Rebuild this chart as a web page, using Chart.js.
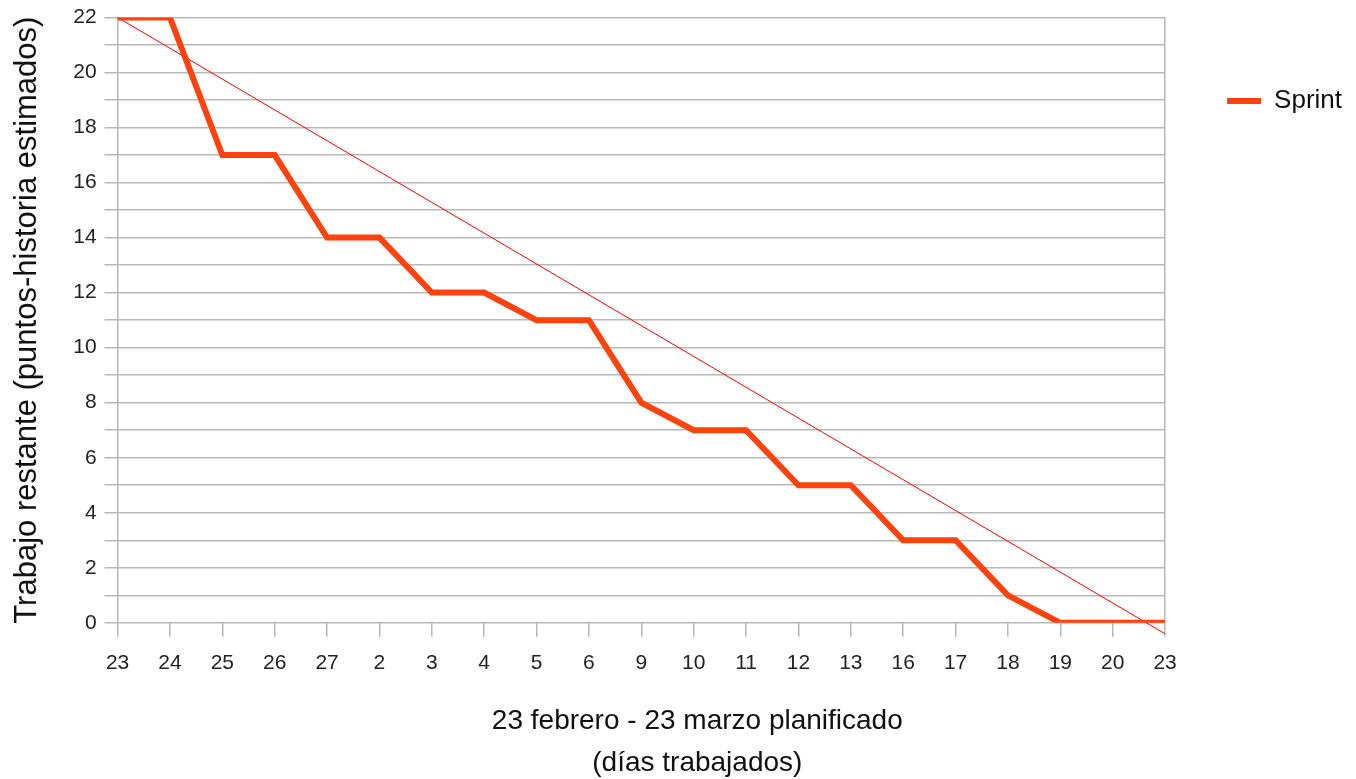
<!DOCTYPE html>
<html>
<head>
<meta charset="utf-8">
<script src="https://cdn.jsdelivr.net/npm/chart.js@4/dist/chart.umd.min.js"></script>
<style>
html,body{margin:0;padding:0;background:#fff;}
#wrap{width:1356px;height:779px;}
</style>
</head>
<body>
<div id="wrap"><canvas id="c" width="1356" height="779"></canvas></div>
<script>
const categories = ['23','24','25','26','27','2','3','4','5','6','9','10','11','12','13','16','17','18','19','20','23'];
const sprintValues = [22,22,17,17,14,14,12,12,11,11,8,7,7,5,5,3,3,1,0,0,0];
const idealValues = [22,null,null,null,null,null,null,null,null,null,null,null,null,null,null,null,null,null,null,null,-0.4];
const yTickLabels = [0,2,4,6,8,10,12,14,16,18,20,22];
const xTitleLines = ['23 febrero - 23 marzo planificado', '(días trabajados)'];

const FONT = "'Liberation Sans', Arial, sans-serif";
const grid = '#b8b8b8';

// x-axis title, centred slightly right of the plot centre as in the reference
const xTitlePlugin = {
  id: 'xTitle',
  afterDraw(chart) {
    const {ctx, chartArea} = chart;
    ctx.save();
    ctx.fillStyle = '#111';
    ctx.font = "28px " + FONT;
    ctx.textAlign = 'center';
    ctx.textBaseline = 'middle';
    const cx = (chartArea.left + chartArea.right) / 2 + 56;
    xTitleLines.forEach((t, i) => ctx.fillText(t, cx, chartArea.bottom + 98 + i * 42));
    ctx.restore();
  }
};

new Chart(document.getElementById('c'), {
  type: 'line',
  data: {
    labels: categories,
    datasets: [
      {label: 'Sprint', data: sprintValues, borderColor: '#ff420e', backgroundColor: '#ff420e', borderWidth: 6, pointRadius: 0, tension: 0, borderJoinStyle: 'miter', order: 1},
      {label: 'Ideal', data: idealValues, borderColor: '#ff0000', backgroundColor: '#ff0000', borderWidth: 1, pointRadius: 0, spanGaps: true, clip: false, order: 2}
    ]
  },
  plugins: [xTitlePlugin],
  options: {
    responsive: false,
    animation: false,
    layout: {padding: {top: 0, right: 4, left: 9, bottom: 89}},
    plugins: {
      tooltip: {enabled: false},
      legend: {
        position: 'right',
        align: 'start',
        title: {display: true, text: ' ', font: {size: 10, lineHeight: 1}, padding: {top: 0, bottom: 16}},
        labels: {
          filter: (item) => item.text === 'Sprint',
          usePointStyle: true,
          pointStyle: 'line',
          pointStyleWidth: 34,
          boxWidth: 34,
          boxHeight: 26,
          color: '#111',
          padding: 62,
          font: {family: FONT, size: 26}
        }
      }
    },
    scales: {
      x: {
        offset: false,
        grid: {
          color: (ctx) => (ctx.index === 0 || ctx.index === categories.length - 1) ? grid : 'rgba(0,0,0,0)',
          tickColor: grid,
          tickLength: 14,
          lineWidth: 1.5
        },
        border: {display: false},
        ticks: {color: '#222', font: {family: FONT, size: 21, lineHeight: 1.2}, padding: 14, maxRotation: 0, autoSkip: false},
        title: {display: false}
      },
      y: {
        min: 0, max: 22,
        grid: {color: grid, tickLength: 13, lineWidth: 1.5},
        border: {display: false},
        ticks: {
          stepSize: 1,
          autoSkip: false,
          color: '#222',
          font: {family: FONT, size: 21, lineHeight: 0.9},
          padding: 8,
          callback: (v) => yTickLabels.includes(v) ? String(v) : ''
        },
        title: {display: true, text: 'Trabajo restante (puntos-historia estimados)', color: '#111', font: {family: FONT, size: 31, lineHeight: 1.2}, padding: {top: 0, bottom: 19}}
      }
    }
  }
});
</script>
</body>
</html>
